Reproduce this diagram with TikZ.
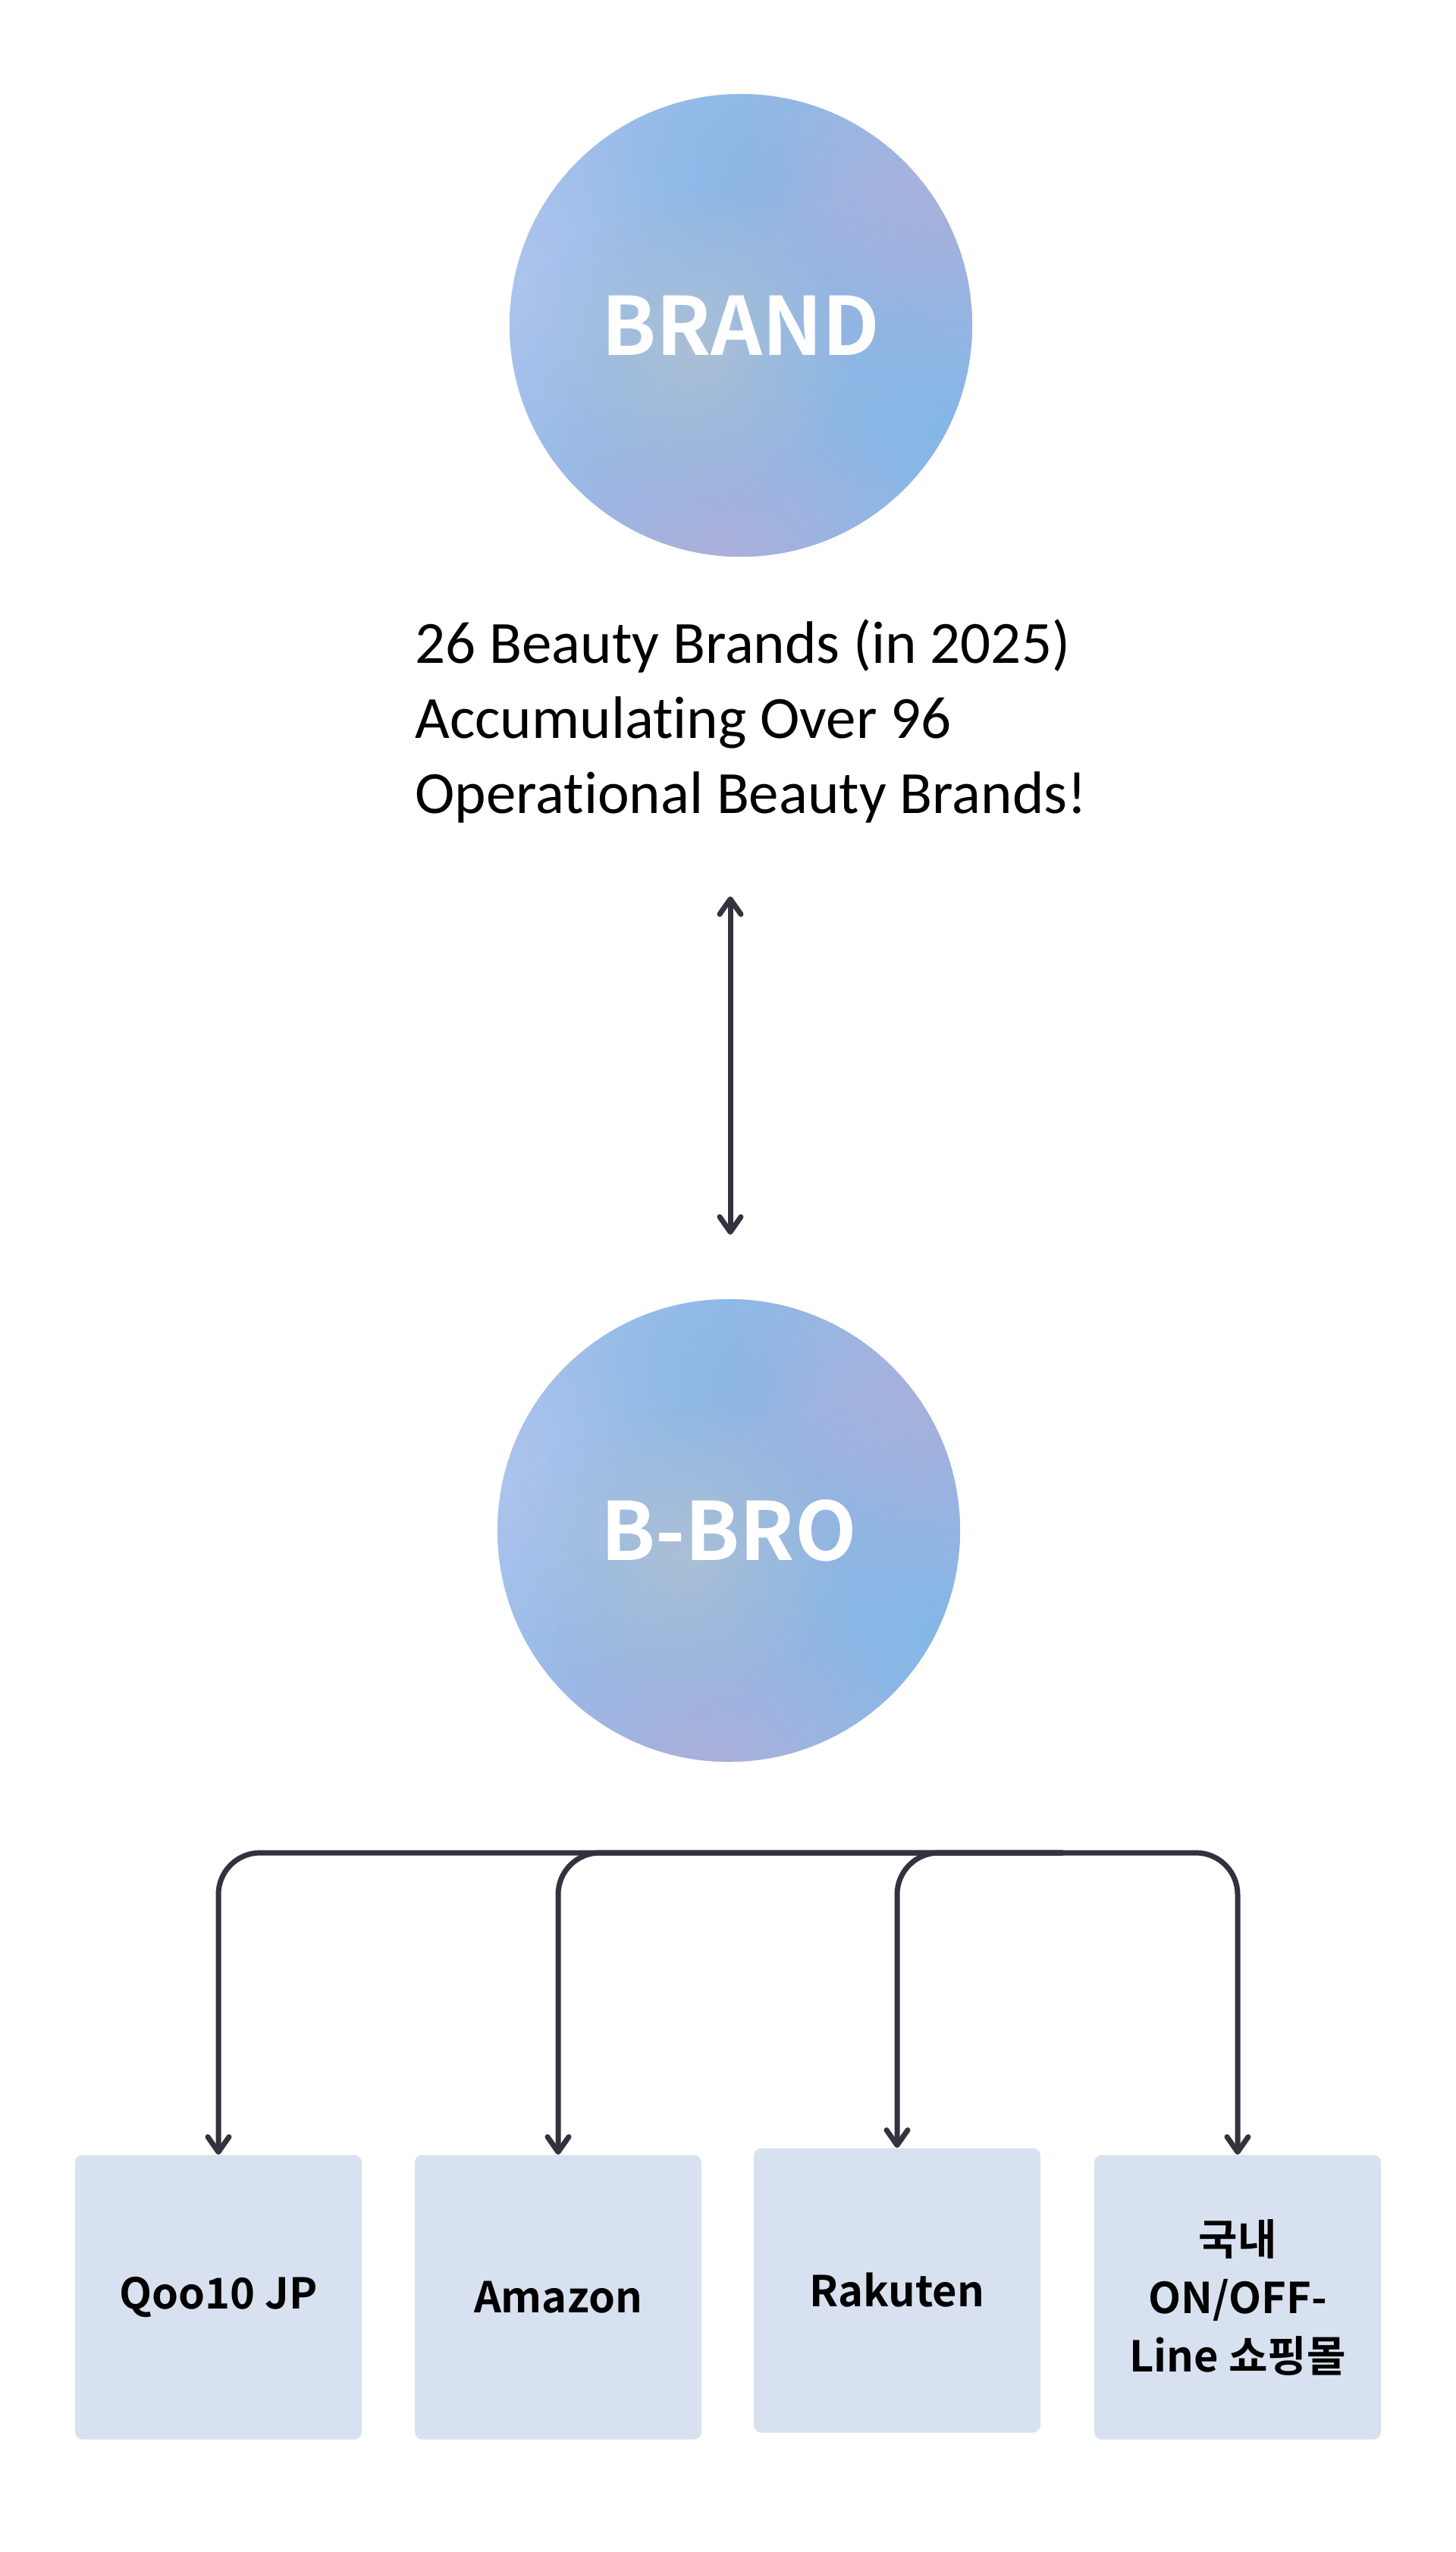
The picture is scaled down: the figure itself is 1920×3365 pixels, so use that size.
\documentclass[tikz,border=0pt]{standalone}
\usepackage{fontspec}
\newfontfamily\carl{Carlito}[Ligatures=NoCommon]
\newfontfamily\kr{Noto Sans CJK KR}[BoldFont={Noto Sans CJK KR Bold}]
\usetikzlibrary{arrows.meta,fadings}
\definecolor{ink}{HTML}{33323F}
\definecolor{boxfill}{HTML}{D8E1EF}
\definecolor{cbase}{HTML}{A5BDE6}
\definecolor{clight}{HTML}{AFC6EF}
\definecolor{cblue}{HTML}{84B7E7}
\definecolor{clav}{HTML}{ADAFDA}
\definecolor{cgray}{HTML}{ABBFD5}
\tikzfading[name=blobfade, inner color=transparent!0, outer color=transparent!100]
\newcommand\bubblefill[3]{%
  \begin{scope}[shift={(#1,#2)}]
    \clip (0,0) circle (#3);
    \fill[cbase] (0,0) circle (#3);
    \fill[clight, path fading=blobfade] ({-0.55*#3},{-0.2*#3}) circle ({1.4*#3});
    \fill[cblue, path fading=blobfade] ({0.1*#3},{-0.62*#3}) circle ({1.1*#3});
    \fill[clav, path fading=blobfade] ({0.85*#3},{-0.3*#3}) circle ({1.1*#3});
    \fill[cblue, path fading=blobfade] ({-0.1*#3},{0.55*#3}) circle ({1.1*#3});
    \fill[cblue, path fading=blobfade] ({0.9*#3},{0.45*#3}) circle ({1.1*#3});
    \fill[clav, path fading=blobfade] ({-0.1*#3},{1.05*#3}) circle ({0.9*#3});
    \fill[cgray, path fading=blobfade] ({-0.2*#3},{0.1*#3}) circle ({0.7*#3});
  \end{scope}}
\tikzset{
  bubble/.style={circle, minimum size=305pt, inner sep=0pt, text=white,
    font=\kr\bfseries\fontsize{53pt}{58pt}\selectfont},
  boxnode/.style={rectangle, rounded corners=5pt, fill=boxfill, minimum width=189pt,
    minimum height=187.5pt, inner sep=0pt, align=center, text=black,
    font=\kr\bfseries\fontsize{28pt}{38.5pt}\selectfont},
  descline/.style={anchor=base west, inner sep=0pt, text=black,
    font=\carl\fontsize{39.5pt}{48pt}\selectfont},
  conn/.style={draw=ink, line width=3.5pt, line cap=round, line join=round},
  onehead/.style={-{Straight Barb[length=10pt,width=14pt,round]}},
  twohead/.style={{Straight Barb[length=10pt,width=14pt,round]}-{Straight Barb[length=10pt,width=14pt,round]}}
}
\begin{document}
\begin{tikzpicture}[x=0.5pt,y=-0.5pt]
\fill[white] (0,0) rectangle (1920,3365);
\useasboundingbox (0,0) rectangle (1920,3365);

\bubblefill{977}{429}{305}
\node[bubble] (brand) at (977,429) {BRAND};

\node[descline] (l1) at (547,874) {26 Beauty Brands (in 2025)};
\node[descline] (l2) at (547,973) {Accumulating Over 96};
\node[descline] (l3) at (547,1072) {Operational Beauty Brands!};

\coordinate (atop) at (963,1182);
\coordinate (abot) at (963,1628);
\draw[conn, twohead] (atop) -- (abot);

\bubblefill{961}{2018}{305}
\node[bubble] (bbro) at (961,2018) {B-BRO};

\node[boxnode] (q) at (288,3029) {Qoo10 JP};
\node[boxnode] (am) at (736,3029) {Amazon};
\node[boxnode] (rk) at (1183,3020) {Rakuten};
\node[boxnode] (kr) at (1632,3029) {국내\\ON/OFF-\\Line 쇼핑몰};

\coordinate (hub) at (1401,2443);
\draw[conn, onehead, rounded corners=27.5pt] (hub) -| (q.north);
\draw[conn, onehead, rounded corners=27.5pt] (hub) -| (am.north);
\draw[conn, onehead, rounded corners=27.5pt] (hub) -| (rk.north);
\draw[conn, onehead, rounded corners=27.5pt] (hub) -| (kr.north);
\end{tikzpicture}
\end{document}
